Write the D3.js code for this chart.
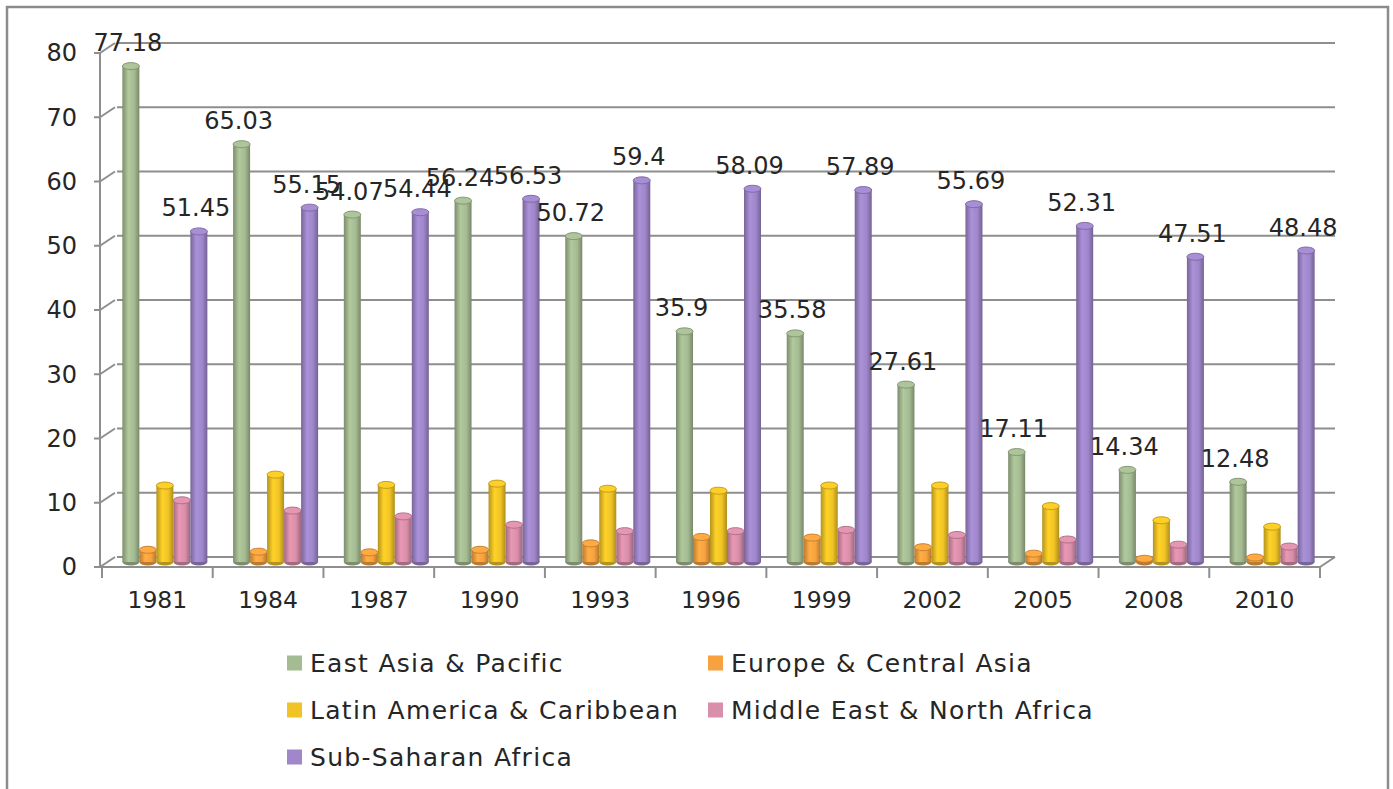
<!DOCTYPE html>
<html lang="en">
<head>
<meta charset="UTF-8">
<title>Poverty by region</title>
<script src="https://d3js.org/d3.v7.min.js"></script>
<style>
  body { margin: 0; background: #fff; }
  text { font-family: "DejaVu Sans", sans-serif; fill: #262626; }
</style>
</head>
<body>
<div id="chart"></div>
<script>
// data
const years = ["1981", "1984", "1987", "1990", "1993", "1996", "1999", "2002", "2005", "2008", "2010"];
const seriesNames = ["East Asia & Pacific", "Europe & Central Asia", "Latin America & Caribbean",
                     "Middle East & North Africa", "Sub-Saharan Africa"];
const eastAsia   = [77.18, 65.03, 54.07, 56.24, 50.72, 35.9, 35.58, 27.61, 17.11, 14.34, 12.48];
const europe     = [1.9, 1.6, 1.5, 1.9, 2.9, 3.9, 3.8, 2.3, 1.3, 0.5, 0.7];
const latinAm    = [11.9, 13.6, 12.0, 12.2, 11.4, 11.1, 11.9, 11.9, 8.7, 6.5, 5.5];
const middleEast = [9.6, 8.0, 7.1, 5.8, 4.8, 4.8, 5.0, 4.2, 3.5, 2.7, 2.4];
const subSahara  = [51.45, 55.15, 54.44, 56.53, 59.4, 58.09, 57.89, 55.69, 52.31, 47.51, 48.48];
const yTicks = [0, 10, 20, 30, 40, 50, 60, 70, 80];

const series = [eastAsia, europe, latinAm, middleEast, subSahara];
const labelled = [true, false, false, false, true];
const colors = ["#a5bb92", "#f7a23f", "#f0c425", "#d98ea9", "#9f87ca"];

const W = 1393, H = 789;
const depthX = 15, depthY = -10;   // 3d offset of the back wall

const svg = d3.select("#chart").append("svg")
  .attr("width", W).attr("height", H);

// outer frame
svg.append("rect")
  .attr("x", 7).attr("y", 7).attr("width", 1381).attr("height", 800)
  .attr("fill", "none").attr("stroke", "#8c8c8c").attr("stroke-width", 2.5);

const x = d3.scaleBand().domain(years).range([102, 1320]);
const yFront = d3.scaleLinear().domain([0, 80]).range([567, 53]);
const yBar = d3.scaleLinear().domain([0, 80]).range([562, 48]);

const grid = "#8e8e8e";

// back wall gridlines + side wall diagonals
const g = svg.append("g");
yTicks.forEach(t => {
  const yf = yFront(t);
  g.append("line")
    .attr("x1", x.range()[0] + depthX).attr("x2", x.range()[1] + depthX)
    .attr("y1", yf + depthY).attr("y2", yf + depthY)
    .attr("stroke", grid).attr("stroke-width", 2);
  g.append("line")
    .attr("x1", 100).attr("y1", yf).attr("x2", 100 + depthX).attr("y2", yf + depthY)
    .attr("stroke", grid).attr("stroke-width", 2);
  g.append("line")
    .attr("x1", 94).attr("y1", yf).attr("x2", 100).attr("y2", yf)
    .attr("stroke", grid).attr("stroke-width", 2);
  g.append("text")
    .attr("x", 77).attr("y", yf).attr("dy", "0.35em")
    .attr("text-anchor", "end").attr("font-size", 24)
    .text(t);
});

// front axis and floor edge
g.append("line")
  .attr("x1", 100).attr("x2", 100).attr("y1", yFront(0)).attr("y2", yFront(80))
  .attr("stroke", grid).attr("stroke-width", 2);
g.append("line")
  .attr("x1", 100).attr("x2", x.range()[1]).attr("y1", yFront(0)).attr("y2", yFront(0))
  .attr("stroke", grid).attr("stroke-width", 2);
g.append("line")
  .attr("x1", x.range()[1]).attr("y1", yFront(0))
  .attr("x2", x.range()[1] + depthX).attr("y2", yFront(0) + depthY)
  .attr("stroke", grid).attr("stroke-width", 2);

// category ticks + labels
const bounds = years.map(d => x(d)).concat([x.range()[1]]);
g.selectAll(".xtick").data(bounds).join("line")
  .attr("x1", d => d).attr("x2", d => d)
  .attr("y1", yFront(0)).attr("y2", yFront(0) + 11)
  .attr("stroke", grid).attr("stroke-width", 2);
g.selectAll(".xlab").data(years).join("text")
  .attr("x", d => x(d) + x.bandwidth() / 2)
  .attr("y", 608)
  .attr("text-anchor", "middle").attr("font-size", 23.5)
  .text(d => d);

// cylinder gradients
const defs = svg.append("defs");
colors.forEach((c, i) => {
  const grad = defs.append("linearGradient").attr("id", "cyl" + i)
    .attr("x1", "0%").attr("x2", "100%").attr("y1", "0%").attr("y2", "0%");
  grad.append("stop").attr("offset", "0%").attr("stop-color", d3.color(c).darker(0.8));
  grad.append("stop").attr("offset", "35%").attr("stop-color", d3.color(c).brighter(0.2));
  grad.append("stop").attr("offset", "70%").attr("stop-color", c);
  grad.append("stop").attr("offset", "100%").attr("stop-color", d3.color(c).darker(0.9));
});

// bars
const barW = 17;
const inner = d3.scaleBand().domain(d3.range(series.length))
  .range([0, barW * series.length]);
const bars = svg.append("g");
const rx = barW / 2, ry = 3.5;
years.forEach((yr, j) => {
  const left = x(yr) + x.bandwidth() / 2 + depthX / 2 - barW * series.length / 2;
  series.forEach((s, i) => {
    const v = s[j];
    const bx = left + inner(i);
    const top = yBar(v), base = yBar(0);
    const cx = bx + rx;
    bars.append("ellipse")
      .attr("cx", cx).attr("cy", base).attr("rx", rx).attr("ry", ry)
      .attr("fill", d3.color(colors[i]).darker(0.8));
    bars.append("rect")
      .attr("x", bx).attr("y", top).attr("width", barW).attr("height", base - top)
      .attr("fill", `url(#cyl${i})`);
    bars.append("ellipse")
      .attr("cx", cx).attr("cy", top).attr("rx", rx).attr("ry", ry)
      .attr("fill", d3.color(colors[i]).brighter(0.15))
      .attr("stroke", d3.color(colors[i]).darker(0.6)).attr("stroke-width", 1);
  });
});

// value labels
const labels = svg.append("g");
years.forEach((yr, j) => {
  const left = x(yr) + x.bandwidth() / 2 + depthX / 2 - barW * series.length / 2;
  series.forEach((s, i) => {
    if (!labelled[i]) return;
    labels.append("text")
      .attr("x", left + inner(i) + barW / 2 - 3)
      .attr("y", yBar(s[j]) - 15)
      .attr("text-anchor", "middle").attr("font-size", 24)
      .text(s[j]);
  });
});

// legend
const legend = svg.append("g");
const colX = [287, 708], rowY = [663, 710, 757];
seriesNames.forEach((name, i) => {
  const lx = colX[i % 2], ly = rowY[Math.floor(i / 2)];
  legend.append("rect")
    .attr("x", lx).attr("y", ly - 7.5).attr("width", 15).attr("height", 15)
    .attr("fill", colors[i]);
  legend.append("text")
    .attr("x", lx + 23).attr("y", ly).attr("dy", "0.35em")
    .attr("font-size", 25).attr("letter-spacing", 1.3)
    .text(name);
});
</script>
</body>
</html>
